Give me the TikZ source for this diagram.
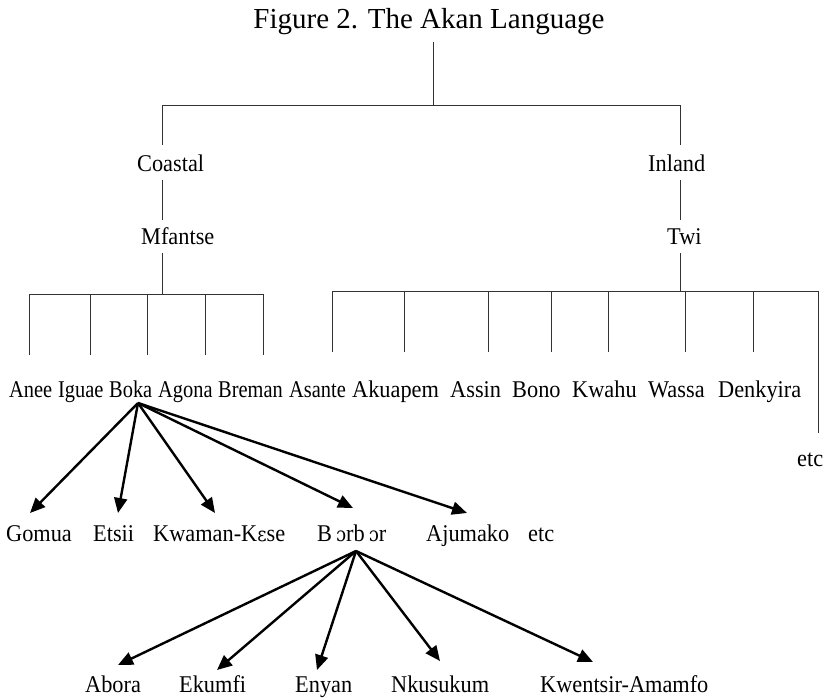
\documentclass[tikz,border=0pt]{standalone}
\usepackage{fontspec}
\setmainfont{Liberation Serif}
\newfontfamily\labfont[FakeStretch=0.93]{Liberation Serif}
\newfontfamily\condfont[FakeStretch=0.85]{Liberation Serif}
\newfontfamily\ipafont[FakeStretch=0.9]{DejaVu Serif}
\usetikzlibrary{arrows.meta}
\begin{document}
\begin{tikzpicture}[x=1pt,y=-1pt,
  lab/.style={font=\labfont\fontsize{24}{24}\selectfont, inner sep=0pt, anchor=base west},
  clab/.style={font=\condfont\fontsize{24}{24}\selectfont, inner sep=0pt, anchor=base west},
  tree/.style={line width=1pt, draw=black!80},
  arr/.style={line width=2.4pt, draw=black, -{Triangle[length=15pt,width=13pt]}}]
\useasboundingbox (0,0) rectangle (827,699);
\fill[white] (0,0) rectangle (827,699);

% title
\node[font=\fontsize{29}{29}\selectfont, inner sep=0pt, anchor=base] (title) at (429,28.5) {Figure 2. The Akan Language};

% top of tree
\coordinate (r0) at (433,42);
\coordinate (r1) at (433,105);
\coordinate (bl) at (162,105);
\coordinate (br) at (680,105);
\draw[tree] (r0) -- (r1);
\draw[tree] (bl) -- (br);

% left branch
\node[lab] (coastal) at (137,171) {Coastal};
\node[lab] (mfantse) at (141,244) {Mfantse};
\coordinate (cT) at (162,145); \coordinate (cB) at (162,180);
\coordinate (mT) at (162,220); \coordinate (mB) at (162,253);
\coordinate (mbar) at (162,294);
\draw[tree] (bl) -- (cT);
\draw[tree] (cB) -- (mT);
\draw[tree] (mB) -- (mbar);
\draw[tree] (29,294) -- (263,294);
\foreach \x in {29,90,147,205,263} \draw[tree] (\x,294) -- (\x,355);

% right branch
\node[lab] (inland) at (648,171) {Inland};
\node[lab] (twi) at (667,244) {Twi};
\coordinate (iT) at (680,145); \coordinate (iB) at (680,180);
\coordinate (tT) at (680,220); \coordinate (tB) at (680,253);
\coordinate (tbar) at (680,291);
\draw[tree] (br) -- (iT);
\draw[tree] (iB) -- (tT);
\draw[tree] (tB) -- (tbar);
\draw[tree] (332,291) -- (818,291);
\foreach \x in {332,404,488,551,608,685,753} \draw[tree] (\x,291) -- (\x,352);
\coordinate (etcT) at (818,291); \coordinate (etcB) at (818,433);
\draw[tree] (etcT) -- (etcB);

% row 1
\node[clab] (anee) at (9,397) {Anee};
\node[clab] (iguae) at (58,397) {Iguae};
\node[clab] (boka) at (109,397) {Boka};
\node[clab] (agona) at (158,397) {Agona};
\node[clab] (breman) at (218,397) {Breman};
\node[clab] (asante) at (289,397) {Asante};
\node[lab] (akuapem) at (352,397) {Akuapem};
\node[lab] (assin) at (450,397) {Assin};
\node[lab] (bono) at (512,397) {Bono};
\node[lab] (kwahu) at (572,397) {Kwahu};
\node[lab] (wassa) at (648,397) {Wassa};
\node[lab] (denkyira) at (718,397) {Denkyira};
\node[lab] (etc1) at (797,466) {etc};

% row 2
\node[lab] (gomua) at (6,541) {Gomua};
\node[lab] (etsii) at (93,541) {Etsii};
\node[lab] (kwaman) at (153,541) {Kwaman-K{\ipafont\fontsize{20}{20}\selectfont ɛ}se};
\node[lab] (borbor) at (317,541) {B\,{\ipafont\fontsize{20}{20}\selectfont ɔ}rb\,{\ipafont\fontsize{20}{20}\selectfont ɔ}r};
\node[lab] (ajumako) at (426,541) {Ajumako};
\node[lab] (etc2) at (528,541) {etc};

% row 3
\node[lab] (abora) at (85,692) {Abora};
\node[lab] (ekumfi) at (179,692) {Ekumfi};
\node[lab] (enyan) at (295,692) {Enyan};
\node[lab] (nkusukum) at (391,692) {Nkusukum};
\node[lab] (kwentsir) at (540,692) {Kwentsir-Amamfo};

% arrows from Boka
\coordinate (bokaO) at (138,403);
\coordinate (tGomua) at (30,513);
\coordinate (tEtsii) at (118,513);
\coordinate (tKwaman) at (215,513);
\coordinate (tBorbor) at (353,508);
\coordinate (tAjumako) at (467,513);
\foreach \t in {tGomua,tEtsii,tKwaman,tBorbor,tAjumako} \draw[arr] (bokaO) -- (\t);

% arrows from Borbor
\coordinate (borO) at (356,551);
\coordinate (tAbora) at (118,665);
\coordinate (tEkumfi) at (217,670);
\coordinate (tEnyan) at (317,670);
\coordinate (tNkusukum) at (440,661);
\coordinate (tKwentsir) at (593,662);
\foreach \t in {tAbora,tEkumfi,tEnyan,tNkusukum,tKwentsir} \draw[arr] (borO) -- (\t);
\end{tikzpicture}
\end{document}
